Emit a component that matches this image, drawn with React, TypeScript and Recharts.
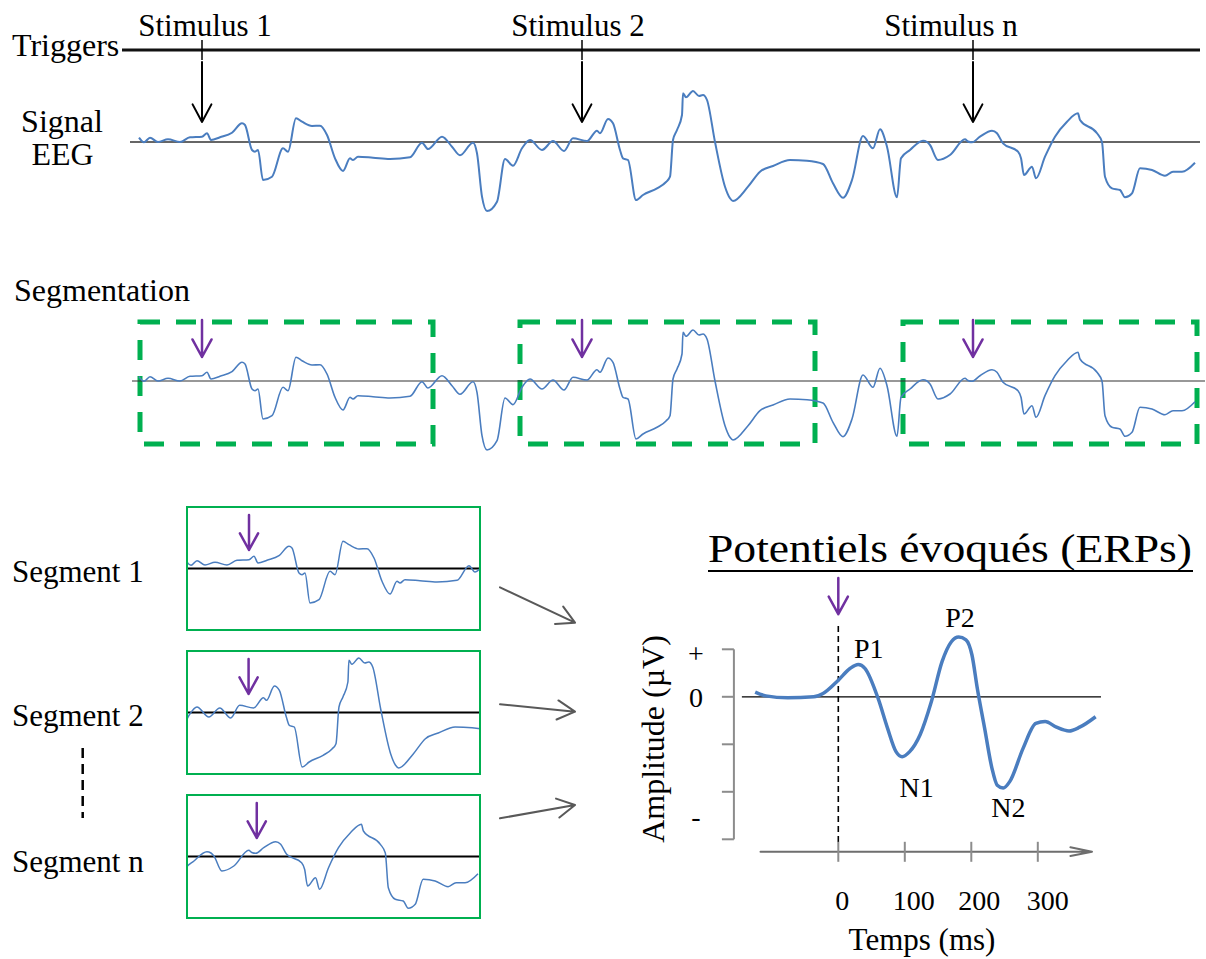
import React from "react";
import { ComposedChart, Line, XAxis, YAxis, ReferenceLine, ReferenceArea, ReferenceDot } from "recharts";

const FONT = '"Liberation Serif", "Times New Roman", serif';
const BLUE = "#4a7dbf";
const GREEN = "#00b050";
const PURPLE = "#7030a0";
const ARROW_GREY = "#595959";
const AXIS_GREY = "#8c8c8c";

// raw EEG trace: [sample, amplitude]
const eegSamples: [number, number][] = [
  [139, 4.4], [144, -0.3], [150, 4.3], [158, 0], [168, 2.7], [180, 0], [190, 4.7], [202, 5.3],
  [207, 8.7], [211, 2], [220, 4.7], [232, 9.3], [242, 18.7], [245, 17], [252, -8], [255, -9.7],
  [258, -8], [263, -38], [272, -34.7], [283, -6.3], [288, -9.7], [296, 23.7], [302, 20.3], [312, 16],
  [320, 16.3], [327, 7], [335, -16.3], [343, -29], [350, -16.3], [353, -18], [358, -14.7], [373, -15.7],
  [390, -17], [410, -15.3], [422, -0.7], [428, -7], [442, 5.3], [452, -4.7], [460, -13.3], [473, -0.7],
  [477, -11.3], [482, -54.7], [487, -69], [497, -59.7], [505, -17], [513, -23.7], [522, -6.3], [530, 2],
  [542, -8], [553, 1], [564, -9], [573, 3.7], [587, 1], [597, 11.3], [600, 8.7], [608, 23],
  [613, 18.7], [620, -8], [623, -16.3], [628, -18], [636, -58], [643, -53], [657, -46.3], [666, -40],
  [670, -34.7], [673, 2], [677, 12], [682, 27], [683, 48.7], [686, 44.7], [693, 51], [699, 46],
  [703, 47], [707, 42], [715, 0], [725, -44.7], [730, -56.3], [733, -59], [748, -44.7], [760, -29.7],
  [773, -24], [790, -18], [807, -18.7], [823, -22], [833, -41.3], [843, -55.7], [852, -38], [863, 6],
  [873, -6.3], [880, 12.7], [887, -4.7], [897, -55.3], [901, -16.3], [910, -8], [923, 1.3], [927, 0],
  [930, -3], [938, -18], [950, -13], [965, 2.7], [968, 0.5], [972, -0.3], [980, 5.3], [992, 11.3],
  [997, 8.7], [1003, -1.3], [1018, -9.7], [1021, -16.3], [1024, -33], [1032, -24.7], [1036, -36.3], [1045, -14.7],
  [1055, 5.3], [1067, 20.3], [1078, 28.7], [1080, 22], [1097, 8.7], [1102, 0], [1105, -34.7], [1112, -46.3],
  [1120, -48], [1125, -55.3], [1132, -51.3], [1140, -26.3], [1152, -28], [1165, -33.7], [1173, -29.7], [1182, -29.7],
  [1195, -20.7],
];

const stimuli = [202, 582, 973];
const stimulusNames = ["Stimulus 1", "Stimulus 2", "Stimulus n"];
const segmentWindows: [number, number][] = [[140, 433], [520, 815], [903, 1197]];
const segmentNames = ["Segment 1", "Segment 2", "Segment n"];

// averaged ERP (ms, µV)
const erpTime = [-125, -109, -76, -37, -23, 0, 18, 30, 40, 60, 74, 87, 96, 107, 123, 140, 156, 170, 181, 192, 201, 209, 220, 231, 239, 248, 258, 278, 297, 311, 328, 347, 363, 387];
const erpAmp = [0.5, 0.1, -0.1, 0, 0.35, 1.75, 3.0, 3.4, 3.0, -0.2, -3.3, -5.8, -6.3, -5.8, -4.0, -0.5, 3.7, 5.8, 6.3, 6.0, 4.4, 0.9, -3.3, -7.5, -9.3, -9.6, -8.9, -5.4, -2.8, -2.6, -3.2, -3.6, -3.2, -2.1];
const erpTimeTicks = [0, 100, 200, 300];
const erpAmpTicks = [5, 0, -5, -10, -15];
const erpPeaks = [
  { name: "P1", t: 30, v: 3.4 },
  { name: "N1", t: 96, v: -6.3 },
  { name: "P2", t: 181, v: 6.3 },
  { name: "N2", t: 248, v: -9.6 },
];

const eeg = eegSamples.map(([t, v]) => ({ t, v }));
const erp = erpTime.map((t, i) => ({ t, v: erpAmp[i] }));

// layout
const TRIGGER_LEVEL = 92;
const stimulusLabelShift = [3, -4, -22];
const segmentTops = [507, 651, 795];
const segmentLabelY = [581.7, 726, 871.7];
const peakLabelOffset: Record<string, [number, number]> = { P1: [10.5, -6.5], N1: [14.5, 40], P2: [1.3, -10], N2: [5.2, 28.5] };
const timeTickShift: Record<number, number> = { 0: 4, 100: 9, 200: 8, 300: 10 };
const ampLabels: Record<string, [string, number]> = { "5": ["+", 14], "0": ["0", 10], "-15": ["-", -13] };
const funnelArrows = [
  [500, 587.3, 575, 622.7],
  [500, 704.3, 575, 711.7],
  [500, 818.3, 575, 805],
];

function arrowPath(x1: number, y1: number, x2: number, y2: number, len: number, spread: number) {
  const a = Math.atan2(y2 - y1, x2 - x1);
  const ax = x2 - len * Math.cos(a - spread);
  const ay = y2 - len * Math.sin(a - spread);
  const bx = x2 - len * Math.cos(a + spread);
  const by = y2 - len * Math.sin(a + spread);
  return `M${x1},${y1}L${x2},${y2}M${ax},${ay}L${x2},${y2}L${bx},${by}`;
}

const arrowShape = (color: string, width: number, len = 20, spread = 0.5) => (p: any) => (
  <path
    d={arrowPath(p.x1, p.y1, p.x2, p.y2, len, spread)}
    stroke={color}
    strokeWidth={width}
    fill="none"
    strokeLinecap="round"
    strokeLinejoin="round"
  />
);

function TimeTick({ x, y, payload }: any) {
  return (
    <g>
      <line x1={x} x2={x} y1={y + 2.5} y2={y + 22.5} stroke={AXIS_GREY} strokeWidth={2} />
      <text x={x + (timeTickShift[payload.value] ?? 0)} y={y + 71} textAnchor="middle" fontFamily={FONT} fontSize={28} fill="#000">
        {payload.value}
      </text>
    </g>
  );
}

function AmpTick({ x, y, payload }: any) {
  const item = ampLabels[String(payload.value)];
  if (!item) return <g />;
  return (
    <text x={x - 24} y={y + item[1]} textAnchor="middle" fontFamily={FONT} fontSize={28} fill="#000">
      {item[0]}
    </text>
  );
}

function SegmentChart({ index }: { index: number }) {
  const win = segmentWindows[index];
  const top = segmentTops[index];
  return (
    <>
      <div style={{ position: "absolute", left: 187, top }}>
        <ComposedChart width={293} height={123} margin={{ top: 0, right: 0, bottom: 0, left: 0 }}>
          <XAxis type="number" dataKey="t" domain={win} hide allowDataOverflow />
          <YAxis type="number" domain={[-65, 58]} hide allowDataOverflow />
          <ReferenceLine y={-3.5} stroke="#000" strokeWidth={2} />
          <Line data={eeg} dataKey="v" type="monotone" stroke={BLUE} strokeWidth={1.5} dot={false} activeDot={false} isAnimationActive={false} />
          <ReferenceLine
            segment={[{ x: stimuli[index], y: 50 }, { x: stimuli[index], y: 15 }]}
            shape={arrowShape(PURPLE, 2.5, 19, 0.5)}
          />
        </ComposedChart>
      </div>
      <div
        style={{
          position: "absolute",
          left: 186,
          top: top - 1,
          width: 295,
          height: 125,
          border: `2px solid ${GREEN}`,
          boxSizing: "border-box",
        }}
      />
    </>
  );
}

export default function App() {
  return (
    <div style={{ position: "absolute", left: 0, top: 0, width: 1206, height: 959, background: "#fff", overflow: "hidden" }}>
      {/* raw recording with triggers */}
      <div style={{ position: "absolute", left: 0, top: 0 }}>
        <ComposedChart width={1206} height={230} margin={{ top: 0, right: 0, bottom: 0, left: 0 }}>
          <XAxis type="number" dataKey="t" domain={[0, 1206]} hide allowDataOverflow />
          <YAxis type="number" domain={[-88, 142]} hide allowDataOverflow />
          <ReferenceLine segment={[{ x: 130, y: 0 }, { x: 1200, y: 0 }]} stroke="#333" strokeWidth={1.3} />
          <ReferenceLine segment={[{ x: 122, y: TRIGGER_LEVEL }, { x: 1200, y: TRIGGER_LEVEL }]} stroke="#111" strokeWidth={3} />
          {stimuli.map((s) => (
            <ReferenceLine key={"tick" + s} segment={[{ x: s, y: TRIGGER_LEVEL + 10 }, { x: s, y: TRIGGER_LEVEL - 10 }]} stroke="#000" strokeWidth={1.5} />
          ))}
          {stimuli.map((s) => (
            <ReferenceLine
              key={"arrow" + s}
              segment={[{ x: s, y: TRIGGER_LEVEL - 12 }, { x: s, y: 20 }]}
              shape={arrowShape("#000", 2, 20, 0.49)}
            />
          ))}
          {stimuli.map((s, i) => (
            <ReferenceDot
              key={"label" + s}
              x={s}
              y={TRIGGER_LEVEL}
              shape={(p: any) => (
                <text x={p.cx + stimulusLabelShift[i]} y={p.cy - 14} textAnchor="middle" fontFamily={FONT} fontSize={31} fill="#000">
                  {stimulusNames[i]}
                </text>
              )}
            />
          ))}
          <Line data={eeg} dataKey="v" type="monotone" stroke={BLUE} strokeWidth={2} dot={false} activeDot={false} isAnimationActive={false} />
        </ComposedChart>
      </div>

      {/* segmentation */}
      <div style={{ position: "absolute", left: 0, top: 239 }}>
        <ComposedChart width={1206} height={230} margin={{ top: 0, right: 0, bottom: 0, left: 0 }}>
          <XAxis type="number" dataKey="t" domain={[0, 1206]} hide allowDataOverflow />
          <YAxis type="number" domain={[-88, 142]} hide allowDataOverflow />
          <ReferenceLine segment={[{ x: 132, y: 0 }, { x: 1205, y: 0 }]} stroke="#333" strokeWidth={1.2} />
          <Line data={eeg} dataKey="v" type="monotone" stroke={BLUE} strokeWidth={1.6} dot={false} activeDot={false} isAnimationActive={false} />
          {segmentWindows.map((w) => (
            <ReferenceArea
              key={"win" + w[0]}
              x1={w[0]}
              x2={w[1]}
              y1={-63}
              y2={59}
              fill="none"
              fillOpacity={0}
              stroke={GREEN}
              strokeWidth={5}
              strokeDasharray="20 16"
            />
          ))}
          {stimuli.map((s) => (
            <ReferenceLine key={"p" + s} segment={[{ x: s, y: 61 }, { x: s, y: 24 }]} shape={arrowShape(PURPLE, 2.5, 20, 0.5)} />
          ))}
        </ComposedChart>
      </div>

      {segmentWindows.map((_, i) => (
        <SegmentChart key={i} index={i} />
      ))}

      {/* averaged ERP */}
      <div style={{ position: "absolute", left: 600, top: 520 }}>
        <ComposedChart width={606} height={439} margin={{ top: 100.8, right: 101.7, bottom: 59.7, left: 73.9 }}>
          <XAxis
            type="number"
            dataKey="t"
            domain={[-157, 400]}
            ticks={erpTimeTicks}
            interval={0}
            allowDataOverflow
            height={60}
            axisLine={false}
            tickLine={false}
            tickSize={0}
            tickMargin={0}
            tick={(p: any) => <TimeTick {...p} />}
          />
          <YAxis
            type="number"
            domain={[-15, 8]}
            ticks={erpAmpTicks}
            interval={0}
            allowDataOverflow
            width={60}
            axisLine={false}
            tickLine={{ stroke: AXIS_GREY, strokeWidth: 2 }}
            tickSize={12}
            tick={(p: any) => <AmpTick {...p} />}
          />
          <ReferenceLine segment={[{ x: -157, y: 5 }, { x: -157, y: -15 }]} stroke={AXIS_GREY} strokeWidth={2} />
          <ReferenceLine segment={[{ x: -145, y: 0 }, { x: 395, y: 0 }]} stroke="#000" strokeWidth={1.2} />
          <ReferenceLine
            segment={[{ x: 0, y: 7.45 }, { x: 0, y: -15.4 }]}
            ifOverflow="visible"
            stroke="#000"
            strokeWidth={1.6}
            strokeDasharray="6 4"
          />
          <ReferenceLine
            segment={[{ x: 0, y: 12.5 }, { x: 0, y: 8.7 }]}
            ifOverflow="visible"
            shape={arrowShape(PURPLE, 2.5, 20, 0.5)}
          />
          <ReferenceLine
            segment={[{ x: -117, y: -16.3 }, { x: 381.5, y: -16.3 }]}
            ifOverflow="visible"
            shape={arrowShape("#6e6e6e", 2, 22, 0.2)}
          />
          <Line data={erp} dataKey="v" type="monotone" stroke={BLUE} strokeWidth={3.5} dot={false} activeDot={false} isAnimationActive={false} />
          {erpPeaks.map((pk) => (
            <ReferenceDot
              key={pk.name}
              x={pk.t}
              y={pk.v}
              shape={(p: any) => (
                <text
                  x={p.cx + peakLabelOffset[pk.name][0]}
                  y={p.cy + peakLabelOffset[pk.name][1]}
                  textAnchor="middle"
                  fontFamily={FONT}
                  fontSize={28}
                  fill="#000"
                >
                  {pk.name}
                </text>
              )}
            />
          ))}
        </ComposedChart>
      </div>

      {/* labels and connectors */}
      <svg width={1206} height={959} style={{ position: "absolute", left: 0, top: 0, pointerEvents: "none" }}>
        <g fontFamily={FONT} fill="#000">
          <text x={12} y={56} fontSize={32}>Triggers</text>
          <text x={62} y={131.7} fontSize={32} textAnchor="middle">Signal</text>
          <text x={62.5} y={165} fontSize={32} textAnchor="middle">EEG</text>
          <text x={14} y={301} fontSize={32}>Segmentation</text>
          {segmentNames.map((n, i) => (
            <text key={n} x={12} y={segmentLabelY[i]} fontSize={31}>{n}</text>
          ))}
          <text x={708} y={562} fontSize={40} textLength={484} lengthAdjust="spacingAndGlyphs">Potentiels évoqués (ERPs)</text>
          <text transform="translate(664 739) rotate(-90)" textAnchor="middle" fontSize={32}>Amplitude (µV)</text>
          <text x={922} y={950} textAnchor="middle" fontSize={31}>Temps (ms)</text>
        </g>
        <line x1={708} y1={571} x2={1193} y2={571} stroke="#000" strokeWidth={2} />
        <line x1={82.7} y1={748} x2={82.7} y2={818} stroke="#000" strokeWidth={2.5} strokeDasharray="10 6" />
        {funnelArrows.map((a, i) => (
          <path
            key={i}
            d={arrowPath(a[0], a[1], a[2], a[3], 20, 0.5)}
            stroke={ARROW_GREY}
            strokeWidth={2}
            fill="none"
            strokeLinecap="round"
            strokeLinejoin="round"
          />
        ))}
      </svg>
    </div>
  );
}
